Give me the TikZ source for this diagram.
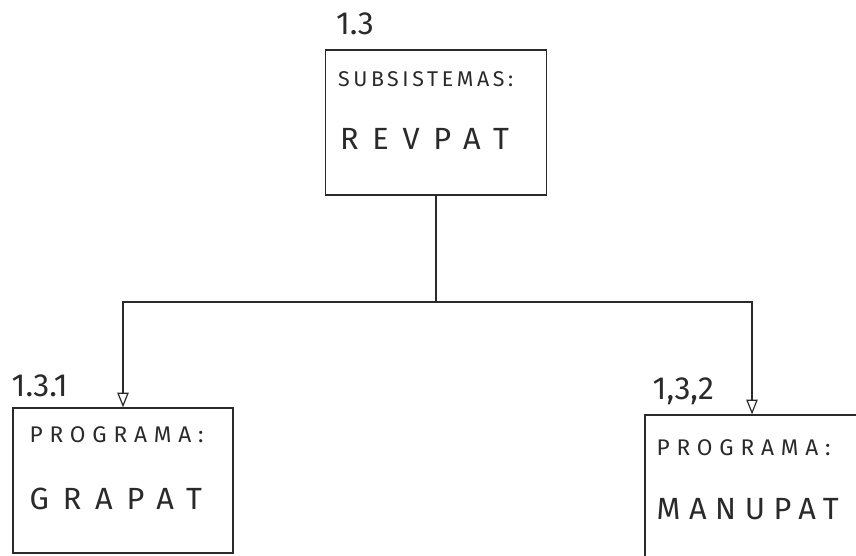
\documentclass[tikz,border=0pt]{standalone}
\usepackage{fontspec}
\usepackage{tikz}
\usetikzlibrary{arrows.meta,positioning,calc}
\setmainfont{Fira Sans}
\newfontfamily\handfont{Fira Sans}
\definecolor{inkgray}{HTML}{2A2A2A}
\tikzset{
  modbox/.style={draw=inkgray, line width=0.9pt, minimum width=166pt, minimum height=108.75pt, inner sep=0pt},
  numlabel/.style={anchor=base west, inner sep=0pt, text=inkgray, font=\handfont\fontsize{24}{24}\selectfont},
  kindtext/.style={anchor=west, inner sep=0pt, text=inkgray, font=\handfont\addfontfeatures{LetterSpace=30}\fontsize{17}{17}\selectfont},
  nametext/.style={anchor=west, inner sep=0pt, text=inkgray, font=\handfont\addfontfeatures{LetterSpace=45}\fontsize{23}{23}\selectfont},
  arrow/.style={-{Triangle[open, length=11pt, width=8.5pt, fill=white]}, line width=0.9pt, draw=inkgray},
  link/.style={line width=0.9pt, draw=inkgray}
}

\begin{document}
\begin{tikzpicture}[x=0.75pt, y=-0.75pt]
  \useasboundingbox (0,0) rectangle (856,556);
  \clip (0,0) rectangle (856,556);

  \node[modbox] (revpat) at (436,122.5) {};
  \node[modbox, minimum width=165pt] (grapat) at (123,480.5) {};
  \node[modbox, minimum width=160.5pt] (manupat) at (752,487.5) {};

  \node[numlabel] (revnum) at ([shift={(11,-15)}]revpat.north west) {1.3};
  \node[numlabel] (granum) at ([shift={(-1,-11)}]grapat.north west) {1.3.1};
  \node[numlabel] (mannum) at ([shift={(8,-15)}]manupat.north west) {1,3,2};

  \node[kindtext, font=\handfont\addfontfeatures{LetterSpace=17}\fontsize{16}{16}\selectfont] (revkind) at ([shift={(13,30)}]revpat.north west) {SUBSISTEMAS:};
  \node[nametext] (revname) at ([shift={(15,90)}]revpat.north west) {REVPAT};
  \node[kindtext] (grakind) at ([shift={(17,27)}]grapat.north west) {PROGRAMA:};
  \node[nametext] (graname) at ([shift={(17,92)}]grapat.north west) {GRAPAT};
  \node[kindtext] (mankind) at ([shift={(12,33)}]manupat.north west) {PROGRAMA:};
  \node[nametext, font=\handfont\addfontfeatures{LetterSpace=28}\fontsize{23}{23}\selectfont] (manname) at ([shift={(12,95)}]manupat.north west) {MANUPAT};

  \coordinate (bus) at (436,302);
  \draw[link] (revpat) -- (bus);
  \draw[arrow] (bus) -| (grapat.north);
  \draw[arrow] (bus) -| (manupat.north);
\end{tikzpicture}
\end{document}
